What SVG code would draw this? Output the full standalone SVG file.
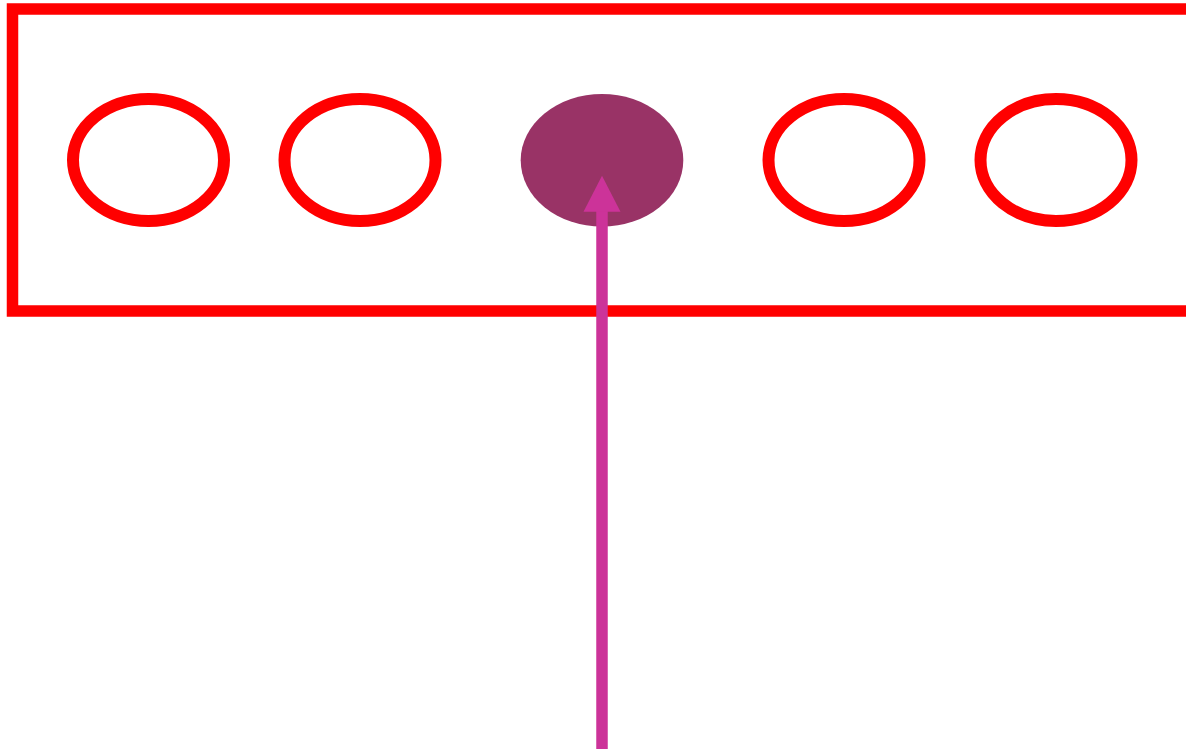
<svg xmlns="http://www.w3.org/2000/svg" width="1186" height="749" viewBox="0 0 1186 749">
<style>
.ring{fill:none;stroke:#FF0000;stroke-width:12}
.frame{fill:none;stroke:#FF0000;stroke-width:11.5}
.conn{stroke:#CC3399;stroke-width:11.5;fill:none}
</style>
<rect width="1186" height="749" fill="#FFFFFF"/>
<g id="frame"><rect class="frame" x="12.5" y="9" width="1200" height="302"/></g>
<g id="n1"><ellipse class="ring" cx="148.5" cy="160" rx="75.5" ry="61"/></g>
<g id="n2"><ellipse class="ring" cx="360" cy="160" rx="75.5" ry="61"/></g>
<g id="n3"><ellipse cx="602" cy="160.3" rx="81.3" ry="66.3" fill="#993366"/></g>
<g id="n4"><ellipse class="ring" cx="844" cy="160" rx="75.5" ry="61"/></g>
<g id="n5"><ellipse class="ring" cx="1056" cy="160" rx="75.5" ry="61"/></g>
<g id="connectors">
<line class="conn" x1="602" y1="749" x2="602" y2="208"/>
<polygon points="602,175.7 620.5,211.7 583.5,211.7" fill="#CC3399"/>
</g>
</svg>
